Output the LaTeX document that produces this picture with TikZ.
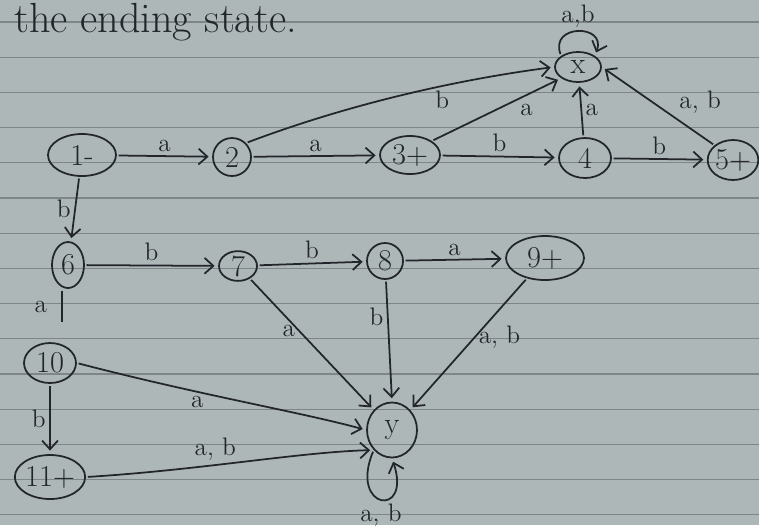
\documentclass[tikz,border=0pt]{standalone}
\usepackage{tikz}
\usepackage{xcolor}
\usetikzlibrary{arrows.meta,shapes.geometric}

\definecolor{paper}{RGB}{174,183,184}
\definecolor{ruling}{RGB}{126,134,136}
\definecolor{ink}{RGB}{34,38,44}

\begin{document}
\begin{tikzpicture}[x=0.02cm, y=-0.02cm, >={Straight Barb[length=5pt,width=9pt]},
    state/.style={draw=ink, ellipse, line width=1pt, inner sep=0pt, text=ink, font=\LARGE},
    lbl/.style={text=ink, font=\Large, inner sep=2pt},
    arc/.style={->, draw=ink, line width=1pt, shorten >=2pt, shorten <=1pt}]
% Paper and ruling
\fill [paper] (0,0) rectangle (759,525);
\useasboundingbox (0,0) rectangle (759,525);
\foreach \k in {0,...,14}
    \draw [ruling, line width=0.7pt] (0,{22+35.2*\k}) -- (759,{22+35.2*\k});

\node [text=ink, font=\fontsize{24}{26}\selectfont, anchor=west] (title) at (8,22) {the ending state.};

% States
\node [state, minimum width=0.92cm, minimum height=0.6cm] (x) at (578,67) {x};
\node [state, minimum width=1.36cm, minimum height=0.84cm] (n1) at (82,155) {1-};
\node [state, minimum width=0.76cm, minimum height=0.76cm] (n2) at (232,157) {2};
\node [state, minimum width=1.2cm, minimum height=0.76cm] (n3) at (410,155) {3+};
\node [state, minimum width=1.04cm, minimum height=0.8cm] (n4) at (585,158) {4};
\node [state, minimum width=0.96cm, minimum height=0.8cm] (n5) at (733,160) {5+};
\node [state, minimum width=0.64cm, minimum height=0.92cm] (n6) at (68,265) {6};
\node [state, minimum width=0.76cm, minimum height=0.56cm] (n7) at (238,266) {7};
\node [state, minimum width=0.72cm, minimum height=0.72cm] (n8) at (385,261) {8};
\node [state, minimum width=1.56cm, minimum height=0.88cm] (n9) at (545,258) {9+};
\node [state, minimum width=1.04cm, minimum height=0.8cm] (n10) at (50,363) {10};
\node [state, minimum width=1.2cm, minimum height=0.88cm] (n11) at (50,477) {11+};
\node [state, minimum width=1.0cm, minimum height=1.1cm] (y) at (392,430) {y};
\coordinate (a10) at (62,326);

% Upper row
\draw [arc] (n1) -- node [lbl, above] {a} (n2);
\draw [arc] (n2) -- node [lbl, above] {a} (n3);
\draw [arc] (n3) -- node [lbl, above] {b} (n4);
\draw [arc] (n4) -- node [lbl, above] {b} (n5);
\draw [arc] (n2.north east) .. controls (360,100) and (470,78) .. node [lbl, below, pos=0.6] {b} (x.west);
\draw [arc] (n3.north east) -- node [lbl, below right, pos=0.65] {a} (x.south west);
\draw [arc] (n4) -- node [lbl, right] {a} (x);
\draw [arc] (n5.north west) -- node [lbl, above right, pos=0.35] {a, b} (x.east);
\draw [arc] (x.north west) .. controls +(-12,-32) and +(12,-32) .. node [lbl, above] {a,b} (x.north east);

% Middle row
\draw [arc] (n1) -- node [lbl, left] {b} (n6);
\draw [arc] (n6) -- node [lbl, above] {b} (n7);
\draw [arc] (n7) -- node [lbl, above] {b} (n8);
\draw [arc] (n8) -- node [lbl, above] {a} (n9);
\draw [arc] (n7) -- node [lbl, left, pos=0.4] {a} (y.north west);
\draw [arc] (n8) -- node [lbl, left, pos=0.3] {b} (y.north);
\draw [arc] (n9) -- node [lbl, right, pos=0.45] {a, b} (y.north east);

% Lower part
\draw [arc, -] (n6.south -| a10) -- node [lbl, left=6pt] {a} (a10);
\draw [arc] (n10) -- node [lbl, left] {b} (n11);
\draw [arc] (n10.east) .. controls (200,395) and (300,412) .. node [lbl, below, pos=0.35] {a} (y.west);
\draw [arc] (n11.east) .. controls (200,470) and (300,452) .. node [lbl, above, pos=0.4] {a, b} (y.south west);
\draw [arc] (y.south west) .. controls +(-25,60) and +(20,60) .. node [lbl, below] {a, b} (y.south);
\end{tikzpicture}
\end{document}
